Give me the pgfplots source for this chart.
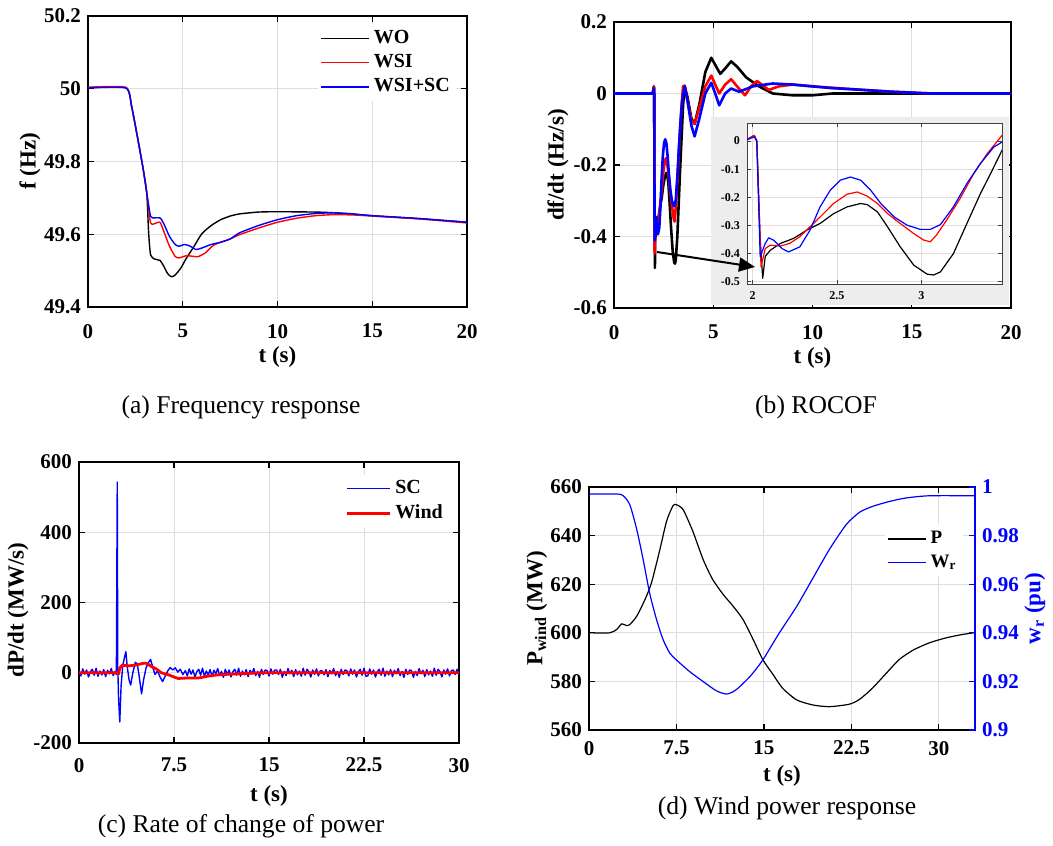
\documentclass[border=0pt]{standalone}
\usepackage{fontspec}
\setmainfont{Liberation Serif}
\usepackage{pgfplots}
\usepackage{pgfplotstable}
\pgfplotsset{compat=1.18}
\usetikzlibrary{arrows.meta}
\definecolor{mblue}{RGB}{0,0,255}
\definecolor{mred}{RGB}{255,0,0}
\definecolor{gridc}{RGB}{222,222,222}
\definecolor{insetbg}{RGB}{237,237,237}
\pgfplotsset{
  every axis plot/.append style={line join=round},
  mat/.style={
    scale only axis,
    axis line style={black, line width=0.8pt},
    tick style={black, line width=0.6pt},
    major tick length=3pt,
    tick align=inside,
    grid=major,
    major grid style={gridc, line width=0.5pt},
    ticklabel style={font=\fontsize{10.5}{12}\selectfont\bfseries},
    label style={font=\fontsize{11.5}{13}\selectfont\bfseries},
    legend style={draw=none, fill=white, font=\fontsize{10}{12}\selectfont\bfseries, inner sep=1pt},
    legend cell align=left,
  },
  leglen/.style={legend image code/.code={\draw[##1] (0pt,0pt) -- (#1,0pt);}},
  ylab/.style 2 args={ylabel style={at={(axis description cs:#1,#2)}, anchor=center}}
}
% ROCOF series (t, df/dt)
\pgfplotstableread{
t v
0 0
1.95 0
2.01 0.02
2.025 0.0
2.045 -0.35
2.06 -0.488
2.075 -0.41
2.105 -0.388
2.164 -0.364
2.243 -0.346
2.32 -0.317
2.40 -0.293
2.48 -0.258
2.56 -0.234
2.64 -0.222
2.68 -0.226
2.74 -0.252
2.80 -0.305
2.875 -0.376
2.955 -0.441
3.034 -0.473
3.073 -0.476
3.113 -0.465
3.19 -0.40
3.27 -0.293
3.35 -0.187
3.41 -0.116
3.478 -0.033
3.56 0.02
3.7 -0.01
3.9 -0.07
4.06 -0.085
4.3 -0.03
4.6 0.06
4.9 0.10
5.1 0.08
5.35 0.055
5.6 0.07
5.9 0.09
6.2 0.075
6.66 0.045
7.3 0.02
8 0.0
9 -0.005
10 -0.005
11 0
20 0
}\bWO
\pgfplotstableread{
t v
0 0
1.95 0
2.01 0.02
2.025 0.0
2.05 -0.447
2.075 -0.382
2.105 -0.37
2.164 -0.373
2.22 -0.364
2.28 -0.34
2.34 -0.305
2.40 -0.27
2.48 -0.222
2.56 -0.189
2.62 -0.181
2.68 -0.196
2.74 -0.222
2.80 -0.258
2.875 -0.293
2.955 -0.329
3.014 -0.352
3.053 -0.358
3.09 -0.334
3.15 -0.281
3.23 -0.204
3.31 -0.116
3.39 -0.045
3.478 0.02
3.56 0.022
3.7 -0.02
3.9 -0.075
4.06 -0.085
4.3 -0.04
4.6 0.02
4.9 0.05
5.1 0.025
5.3 0.0
5.6 0.025
5.9 0.04
6.2 0.02
6.6 -0.005
6.9 0.02
7.2 0.035
7.8 0.01
8.3 0.02
9 0.025
10 0.02
12 0.012
14 0.005
16 0
20 0
}\bWSI
\pgfplotstableread{
t v
0 0
1.95 0
2.01 0.015
2.025 0.0
2.045 -0.411
2.075 -0.364
2.095 -0.344
2.124 -0.352
2.174 -0.382
2.213 -0.394
2.28 -0.376
2.34 -0.317
2.40 -0.234
2.46 -0.175
2.52 -0.139
2.58 -0.128
2.64 -0.139
2.70 -0.175
2.76 -0.222
2.84 -0.27
2.915 -0.299
2.994 -0.314
3.053 -0.314
3.113 -0.297
3.19 -0.234
3.27 -0.151
3.35 -0.08
3.43 -0.021
3.478 -0.004
3.56 0.02
3.7 -0.02
3.9 -0.09
4.06 -0.12
4.3 -0.07
4.6 0.0
4.9 0.03
5.1 0.0
5.3 -0.033
5.6 0.0
5.9 0.014
6.3 0.005
7 0.02
8 0.028
9 0.025
10 0.02
11 0.015
12 0.012
14 0.005
16 0
20 0
}\bWSC
% dP/dt of the supercapacitor (MW/s)
\pgfplotstableread{
t v
0 6
0.15 -9
0.3 11
0.45 -4
0.6 8
0.75 -12
0.9 3
1.05 10
1.2 -7
1.35 13
1.5 -10
1.65 5
1.8 -6
1.95 9
2.1 -11
2.25 7
2.4 -3
2.55 12
2.7 -8
2.85 4
2.95 -5
3.02 543
3.06 20
3.12 -70
3.22 -140
3.32 -40
3.45 20
3.6 45
3.7 60
3.8 20
3.95 -20
4.08 -35
4.25 0
4.45 30
4.6 25
4.75 -10
4.94 -60
5.1 -20
5.3 15
5.5 30
5.65 38
5.85 12
6.0 -5
6.2 5
6.4 -12
6.6 -25
6.8 -10
7.0 5
7.2 15
7.4 8
7.6 14
7.8 2
8.0 10
8.2 -5
8.40 6
8.55 -9
8.70 11
8.85 -4
9.00 8
9.15 -12
9.30 3
9.45 10
9.60 -7
9.75 13
9.90 -10
10.05 5
10.20 -6
10.35 9
10.50 -11
10.65 7
10.80 -3
10.95 12
11.10 -8
11.25 4
11.40 -13
11.55 10
11.70 -5
11.85 8
12.00 -12
12.15 3
12.30 10
12.45 -7
12.60 13
12.75 -10
12.90 5
13.05 -6
13.20 9
13.35 -11
13.50 7
13.65 -3
13.80 12
13.95 -8
14.10 4
14.25 -13
14.40 10
14.55 -5
14.70 8
14.85 6
15.00 -9
15.15 11
15.30 -4
15.45 8
15.60 8
15.75 -5
15.90 10
16.05 -13
16.20 4
16.35 -8
16.50 12
16.65 -3
16.80 7
16.95 -11
17.10 9
17.25 -6
17.40 5
17.55 -10
17.70 13
17.85 -7
18.00 10
18.15 3
18.30 -12
18.45 8
18.60 -4
18.75 11
18.90 -9
19.05 6
19.20 5
19.35 -6
19.50 9
19.65 -11
19.80 7
19.95 -3
20.10 12
20.25 -8
20.40 4
20.55 -13
20.70 10
20.85 -5
21.00 8
21.15 6
21.30 -9
21.45 11
21.60 -4
21.75 8
21.90 -12
22.05 3
22.20 10
22.35 -7
22.50 13
22.65 -10
22.80 -9
22.95 11
23.10 -4
23.25 8
23.40 -12
23.55 3
23.70 10
23.85 -7
24.00 13
24.15 -10
24.30 5
24.45 -6
24.60 9
24.75 -11
24.90 7
25.05 -3
25.20 12
25.35 -8
25.50 4
25.65 -13
25.80 10
25.95 -5
26.10 8
26.25 6
26.40 -13
26.55 4
26.70 -8
26.85 12
27.00 -3
27.15 7
27.30 -11
27.45 9
27.60 -6
27.75 5
27.90 -10
28.05 13
28.20 -7
28.35 10
28.50 3
28.65 -12
28.80 8
28.95 -4
29.10 11
29.25 -9
29.40 6
29.55 8
29.70 -5
29.85 10
30.00 -4
}\cSC
\begin{document}
\begin{tikzpicture}
\useasboundingbox (0,0) rectangle (526.5pt,-422.5pt);
% ---------------- (a) Frequency response
\begin{axis}[mat, at={(44pt,-153.5pt)}, anchor=south west,
  width=189.5pt, height=145.5pt,
  xmin=0, xmax=20, ymin=49.4, ymax=50.2,
  xtick={0,5,10,15,20}, xticklabels={0,5,10,15,20},
  ytick={49.4,49.6,49.8,50,50.2}, yticklabels={49.4,49.6,49.8,50,50.2},
  xticklabel style={yshift=-5pt},
  xlabel={t (s)}, ylabel={f (Hz)}, ylab={-0.153}{0.5},
  xlabel style={yshift=2.5pt},
  leglen=24pt,
  legend style={at={(0.607,0.973)}, anchor=north west},
  every axis plot/.append style={line width=0.7pt, smooth, tension=0.35}]
\addplot[black] coordinates {(0,50.003)(2.0,50.003)(2.3,49.952)(2.6,49.870)(2.9,49.783)(3.1,49.714)(3.2,49.604)(3.3,49.544)(3.5,49.532)(3.8,49.528)(4.0,49.512)(4.2,49.492)(4.4,49.483)(4.6,49.488)(4.9,49.507)(5.2,49.535)(5.6,49.567)(6.0,49.601)(6.5,49.624)(7.0,49.640)(7.5,49.650)(8,49.656)(9,49.661)(10,49.662)(12,49.661)(13,49.659)(15,49.651)(17.5,49.643)(20,49.633)};
\addlegendentry{WO}
\addplot[mred] coordinates {(0,50.004)(2.0,50.004)(2.3,49.952)(2.6,49.870)(2.9,49.783)(3.1,49.714)(3.3,49.631)(3.5,49.629)(3.8,49.633)(4.0,49.608)(4.3,49.567)(4.6,49.539)(4.8,49.535)(5.2,49.541)(5.6,49.539)(5.8,49.538)(6.2,49.549)(6.6,49.569)(7.0,49.578)(7.5,49.587)(8,49.599)(9,49.617)(10,49.633)(11,49.644)(12,49.651)(13,49.654)(14,49.653)(15,49.650)(17.5,49.642)(20,49.631)};
\addlegendentry{WSI}
\addplot[mblue] coordinates {(0,50.002)(2.0,50.002)(2.3,49.952)(2.6,49.870)(2.9,49.783)(3.1,49.714)(3.3,49.650)(3.5,49.645)(3.8,49.645)(4.0,49.629)(4.3,49.594)(4.6,49.572)(4.8,49.567)(5.1,49.572)(5.4,49.567)(5.7,49.558)(6.0,49.562)(6.5,49.572)(7.0,49.578)(7.5,49.587)(8,49.604)(9,49.624)(10,49.640)(11,49.651)(12,49.657)(13,49.659)(14,49.656)(15,49.651)(17.5,49.643)(20,49.633)};
\addlegendentry{WSI+SC}
\end{axis}
\node[font=\fontsize{12.8}{14}\selectfont] at (120.5pt,-203.5pt) {(a) Frequency response};
% ---------------- (b) ROCOF
\begin{axis}[mat, at={(307pt,-154pt)}, anchor=south west,
  width=198.5pt, height=143pt,
  xmin=0, xmax=20, ymin=-0.6, ymax=0.2,
  xtick={0,5,10,15,20}, xticklabels={0,5,10,15,20},
  ytick={-0.6,-0.4,-0.2,0,0.2}, yticklabels={-0.6,-0.4,-0.2,0,0.2},
  xticklabel style={yshift=-5pt},
  xlabel={t (s)}, ylabel={df/dt (Hz/s)}, ylab={-0.141}{0.5},
  xlabel style={yshift=2.5pt},
  every axis plot/.append style={line width=1.3pt}]
\addplot[black] table[x=t,y=v] {\bWO};
\addplot[mred] table[x=t,y=v] {\bWSI};
\addplot[mblue] table[x=t,y=v] {\bWSC};
\end{axis}
\fill[insetbg] (355.5pt,-58.5pt) rectangle (504.6pt,-152.6pt);
\begin{axis}[scale only axis, at={(373.5pt,-142pt)}, anchor=south west,
  width=127.5pt, height=80.5pt,
  xmin=1.967, xmax=3.478, ymin=-0.508, ymax=0.064,
  axis background/.style={fill=white},
  axis line style={black!75, line width=0.4pt},
  tick style={black!75, line width=0.4pt}, major tick length=2pt, tick align=inside,
  grid=major, major grid style={gridc, line width=0.4pt},
  ticklabel style={font=\fontsize{6}{7}\selectfont\bfseries},
  xtick={2,2.5,3}, xticklabels={2,2.5,3},
  ytick={-0.5,-0.4,-0.3,-0.2,-0.1,0}, yticklabels={-0.5,-0.4,-0.3,-0.2,-0.1,0},
  every axis plot/.append style={line width=0.6pt}]
\addplot[black] table[x=t,y=v] {\bWO};
\addplot[mred] table[x=t,y=v] {\bWSI};
\addplot[mblue] table[x=t,y=v] {\bWSC};
\end{axis}
\draw[line width=1pt, -{Triangle[length=8pt,width=7pt]}] (328.5pt,-126pt) -- (377.5pt,-133.5pt);
\node[font=\fontsize{12.8}{14}\selectfont] at (408pt,-203.5pt) {(b) ROCOF};
% ---------------- (c) Rate of change of power
\begin{axis}[mat, at={(39.5pt,-371.5pt)}, anchor=south west,
  width=190pt, height=140.5pt,
  xmin=0, xmax=30, ymin=-200, ymax=600,
  xtick={0,7.5,15,22.5,30}, xticklabels={0,7.5,15,22.5,30},
  ytick={-200,0,200,400,600}, yticklabels={-200,0,200,400,600},
  xticklabel style={yshift=-4pt},
  xlabel={t (s)}, ylabel={dP/dt (MW/s)}, ylab={-0.16}{0.473},
  leglen=21.5pt,
  legend style={at={(0.695,0.957)}, anchor=north west}]
\addplot[mblue, line width=0.7pt] table[x=t,y=v] {\cSC};
\addlegendentry{SC}
\addplot[mred, line width=1.4pt, smooth, tension=0.4] coordinates {(0,0)(3.0,0)(3.1,-3)(3.25,15)(3.4,21)(4.0,20)(4.5,22)(5.1,27)(5.4,26)(5.7,18)(6.1,11)(6.5,0)(7.0,-5)(7.5,-12)(7.8,-16)(8.5,-15)(9.2,-15)(9.6,-14)(10.1,-10)(11,-6)(12.5,-3)(14,-1)(15.5,0)(30,0)};
\addlegendentry{Wind}
\end{axis}
\node[font=\fontsize{12.8}{14}\selectfont] at (120.5pt,-413pt) {(c) Rate of change of power};
% ---------------- (d) Wind power response
\begin{axis}[mat, at={(294.5pt,-365pt)}, anchor=south west,
  width=193pt, height=121.5pt,
  xmin=0, xmax=33.1, ymin=560, ymax=660,
  xtick={0,7.5,15,22.5,30}, xticklabels={0,7.5,15,22.5,30},
  ytick={560,580,600,620,640,660}, yticklabels={560,580,600,620,640,660},
  ytick pos=left,
  xticklabel style={yshift=-2pt},
  xlabel={t (s)}, ylabel={P\textsubscript{wind} (MW)}, ylab={-0.135}{0.5},
  xlabel style={yshift=1.5pt}]
\addplot[black, line width=0.6pt, smooth, tension=0.4] coordinates {(0,600)(1.8,600)(2.4,601.5)(2.8,603.7)(3.2,603)(3.5,603.4)(4.1,606.9)(4.8,613.7)(5.36,620.6)(6.08,634.3)(6.65,645.9)(7.2,652.3)(7.5,652.7)(8.07,650.7)(8.9,641.8)(9.8,630)(10.6,622)(11.5,615.8)(12.35,611)(13.2,605.5)(14.07,597.3)(14.9,589)(15.8,582.7)(16.6,577.2)(17.8,572.4)(19.2,570.3)(20.6,569.6)(22.3,570.6)(23.2,572.6)(24.3,577.2)(25.5,583.4)(26.6,589)(27.8,592.9)(29.2,595.9)(30.6,597.9)(32.0,599.3)(33.0,600)};
\end{axis}
\begin{axis}[scale only axis, at={(294.5pt,-365pt)}, anchor=south west,
  width=193pt, height=121.5pt,
  xmin=0, xmax=33.1, ymin=0.9, ymax=1,
  axis x line=none, axis y line*=right,
  axis line style={mblue, line width=0.8pt},
  y axis line style={-},
  ytick style={mblue, line width=0.6pt}, major tick length=3pt, tick align=inside,
  ytick={0.9,0.92,0.94,0.96,0.98,1}, yticklabels={0.9,0.92,0.94,0.96,0.98,1},
  yticklabel style={font=\fontsize{10.5}{12}\selectfont\bfseries, text=mblue},
  ylabel={w\textsubscript{r} (pu)},
  ylabel style={font=\fontsize{11.5}{13}\selectfont\bfseries, text=mblue, at={(axis description cs:1.155,0.5)}, anchor=center},
  legend style={draw=none, fill=white, font=\fontsize{9.5}{11}\selectfont\bfseries, inner sep=1pt, at={(0.767,0.844)}, anchor=north west},
  legend cell align=left, leglen=19pt]
\addlegendimage{black, line width=0.6pt}
\addlegendentry{P}
\addplot[mblue, line width=0.6pt, smooth, tension=0.4] coordinates {(0,0.9971)(2.4,0.9971)(2.94,0.9964)(3.5,0.9927)(4.1,0.9824)(4.65,0.970)(5.2,0.9563)(5.8,0.9453)(6.36,0.9371)(6.93,0.9316)(7.5,0.9288)(8.64,0.924)(9.8,0.9199)(10.9,0.9162)(11.8,0.9148)(12.6,0.9165)(13.8,0.922)(14.9,0.9288)(16.3,0.9398)(17.8,0.9508)(19.2,0.9625)(20.6,0.9742)(22.05,0.9845)(23.2,0.9896)(24.3,0.992)(25.8,0.9941)(27.2,0.9955)(29.2,0.9964)(33.1,0.9964)};
\addlegendentry{W\textsubscript{r}}
\end{axis}
\node[font=\fontsize{12.8}{14}\selectfont] at (393.5pt,-404pt) {(d) Wind power response};
\end{tikzpicture}
\end{document}
